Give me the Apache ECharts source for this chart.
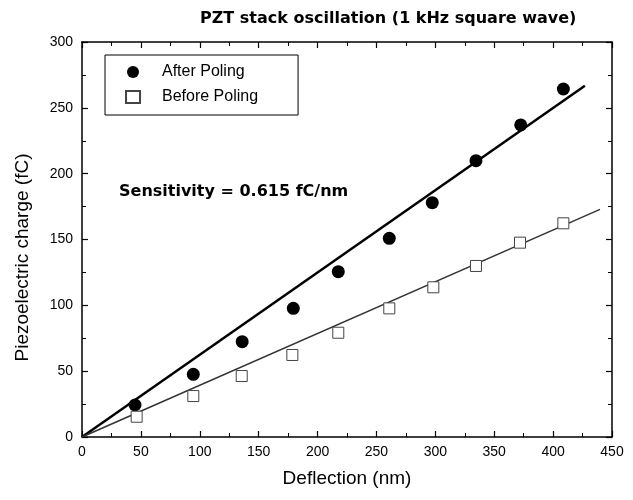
<!DOCTYPE html>
<html>
<head>
<meta charset="utf-8">
<script src="https://cdn.jsdelivr.net/npm/echarts@6/dist/echarts.min.js"></script>
<style>html,body{margin:0;padding:0;background:#fff}#c{width:633px;height:500px}</style>
</head>
<body>
<div id="c"></div>
<script>
const afterX = [45, 94.5, 136, 179.4, 217.6, 260.9, 297.4, 334.5, 372.5, 408.7];
const afterY = [24.3, 47.6, 72.4, 97.7, 125.6, 150.9, 178, 209.9, 237, 264.3];
const beforeX = [46.4, 94.5, 135.6, 178.6, 217.6, 260.9, 298.3, 334.5, 371.9, 408.7];
const beforeY = [15.4, 31.1, 46.3, 62.3, 79.2, 97.7, 113.7, 129.9, 147.6, 162.3];
const afterFitX = [0, 427];
const afterFitY = [0, 266.8];
const beforeFitX = [0, 439.8];
const beforeFitY = [0, 172.9];
const xMin = 0, xMax = 450, xStep = 50;
const yMin = 0, yMax = 300, yStep = 50;
const titleText = 'PZT stack oscillation (1 kHz square wave)';
const noteText = 'Sensitivity = 0.615 fC/nm';
const xName = 'Deflection (nm)';
const yName = 'Piezoelectric charge (fC)';

const zip = (a, b) => a.map((v, i) => [v, b[i]]);
const font = 'Liberation Sans, Arial, sans-serif';
const boldFont = 'DejaVu Sans, Liberation Sans, sans-serif';

const baseAxis = {
  axisLine: { show: true, onZero: false, lineStyle: { color: '#000', width: 1.5 } },
  axisTick: { show: true, inside: true, length: 6, lineStyle: { color: '#000', width: 1.2 } },
  minorTick: { show: true, splitNumber: 2, length: 4, lineStyle: { color: '#000', width: 1 } },
  splitLine: { show: false },
  minorSplitLine: { show: false }
};

const chart = echarts.init(document.getElementById('c'), null, { renderer: 'canvas' });
chart.setOption({
  backgroundColor: '#fff',
  animation: false,
  title: [
    { text: titleText, left: 200, top: 11, padding: 0, textStyle: { fontFamily: boldFont, fontSize: 16, fontWeight: 'bold', color: '#000' } },
    { text: noteText, left: 119, top: 184, padding: 0, textStyle: { fontFamily: boldFont, fontSize: 16, fontWeight: 'bold', color: '#000' } }
  ],
  grid: { left: 82, right: 21, top: 42, bottom: 63, containLabel: false },
  legend: {
    orient: 'vertical', left: 105, top: 55,
    data: ['After Poling', 'Before Poling'],
    borderColor: '#000', borderWidth: 1, padding: [9, 40, 10, 20],
    itemWidth: 14, itemHeight: 12, itemGap: 9,
    textStyle: { fontFamily: font, fontSize: 16, color: '#000', padding: [0, 0, 0, 17] }
  },
  xAxis: [
    Object.assign({}, baseAxis, {
      type: 'value', min: xMin, max: xMax, interval: xStep, position: 'bottom',
      name: xName, nameLocation: 'middle', nameGap: 32,
      nameTextStyle: { fontFamily: font, fontSize: 19, color: '#000' },
      axisLabel: { fontFamily: font, fontSize: 14, color: '#000', margin: 8 }
    }),
    Object.assign({}, baseAxis, {
      type: 'value', min: xMin, max: xMax, interval: xStep, position: 'top',
      axisLabel: { show: false }
    })
  ],
  yAxis: [
    Object.assign({}, baseAxis, {
      type: 'value', min: yMin, max: yMax, interval: yStep, position: 'left',
      name: yName, nameLocation: 'middle', nameGap: 50,
      nameTextStyle: { fontFamily: font, fontSize: 19, color: '#000', padding: [0, 0, 0, -36] },
      axisLabel: { fontFamily: font, fontSize: 14, color: '#000', margin: 9 }
    }),
    Object.assign({}, baseAxis, {
      type: 'value', min: yMin, max: yMax, interval: yStep, position: 'right',
      axisLabel: { show: false }
    })
  ],
  series: [
    {
      name: 'After Poling fit', type: 'line', data: zip(afterFitX, afterFitY),
      symbol: 'none', lineStyle: { color: '#000', width: 2.5 }, z: 2
    },
    {
      name: 'Before Poling fit', type: 'line', data: zip(beforeFitX, beforeFitY),
      symbol: 'none', lineStyle: { color: '#333', width: 1.5 }, z: 2
    },
    {
      name: 'After Poling', type: 'scatter', data: zip(afterX, afterY),
      symbol: 'circle', symbolSize: 13, itemStyle: { color: '#000', opacity: 1 }, z: 3
    },
    {
      name: 'Before Poling', type: 'scatter', data: zip(beforeX, beforeY),
      symbol: 'rect', symbolSize: 11,
      itemStyle: { color: '#fff', borderColor: '#444', borderWidth: 1, opacity: 1 }, z: 3
    }
  ]
});
</script>
</body>
</html>
